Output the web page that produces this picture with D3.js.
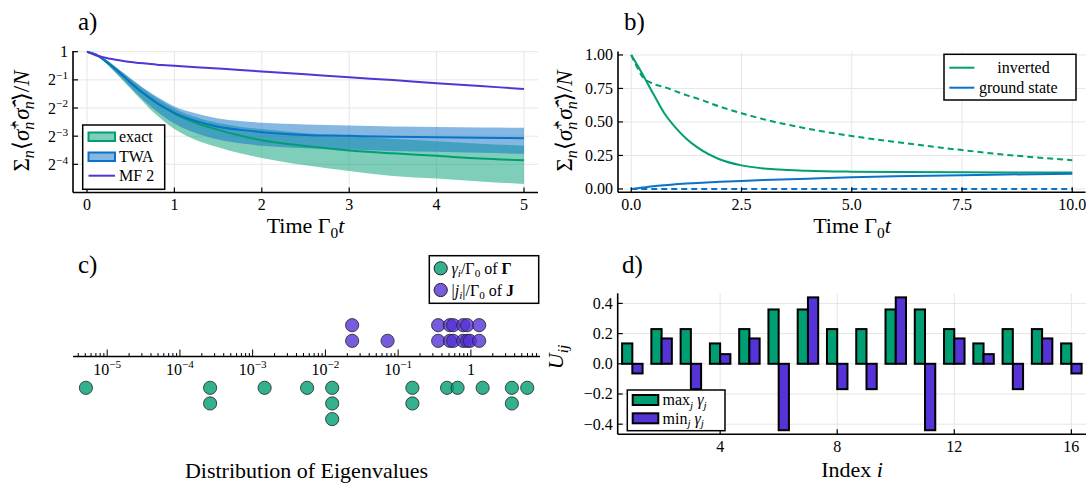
<!DOCTYPE html>
<html>
<head>
<meta charset="utf-8">
<script src="https://cdn.jsdelivr.net/npm/d3@7"></script>
<style>
  body { margin: 0; background: #fff; }
  svg { font-family: "Liberation Serif", "DejaVu Serif", serif; }
</style>
</head>
<body>
<svg id="fig" width="1091" height="489"></svg>
<script>
// ---- panel a : decay, log2 axis
const tA = [0, 0.1, 0.2, 0.3, 0.4, 0.5, 0.6, 0.7, 0.8, 0.9, 1.0, 1.25, 1.5, 1.75, 2.0, 2.5, 3.0, 3.5, 4.0, 4.5, 5.0];
const exactMean = [1, 0.933, 0.812, 0.683, 0.566, 0.467, 0.387, 0.330, 0.281, 0.247, 0.218, 0.173, 0.146, 0.127, 0.113, 0.098, 0.088, 0.082, 0.077, 0.072, 0.069];
const exactHi = [1, 0.946, 0.841, 0.722, 0.607, 0.511, 0.432, 0.369, 0.319, 0.279, 0.247, 0.199, 0.173, 0.158, 0.149, 0.134, 0.125, 0.117, 0.110, 0.104, 0.099];
const exactLo = [1, 0.920, 0.774, 0.629, 0.504, 0.401, 0.319, 0.255, 0.209, 0.174, 0.149, 0.113, 0.095, 0.082, 0.073, 0.061, 0.053, 0.047, 0.044, 0.041, 0.0385];
const twaMean = [1, 0.933, 0.812, 0.683, 0.566, 0.467, 0.387, 0.330, 0.283, 0.250, 0.222, 0.181, 0.158, 0.146, 0.138, 0.129, 0.126, 0.123, 0.122, 0.120, 0.119];
const twaHi = [1, 0.946, 0.841, 0.722, 0.611, 0.518, 0.441, 0.379, 0.330, 0.291, 0.259, 0.218, 0.193, 0.182, 0.174, 0.167, 0.163, 0.159, 0.157, 0.155, 0.154];
const twaLo = [1, 0.920, 0.779, 0.637, 0.518, 0.415, 0.335, 0.274, 0.230, 0.196, 0.171, 0.134, 0.115, 0.105, 0.099, 0.093, 0.090, 0.087, 0.085, 0.083, 0.081];
const mf2 = [1, 0.915, 0.866, 0.829, 0.801, 0.774, 0.758, 0.742, 0.727, 0.717, 0.707, 0.683, 0.660, 0.637, 0.616, 0.574, 0.532, 0.497, 0.460, 0.429, 0.400];
const yTicksA = [1, 0.5, 0.25, 0.125, 0.0625];
const xTicksA = [0, 1, 2, 3, 4, 5];

// ---- panel b : inverted vs ground state
const tB = [0, 0.1, 0.25, 0.5, 0.75, 1.0, 1.25, 1.5, 2.0, 2.5, 3.0, 4.0, 5.0, 6.0, 7.5, 8.5, 10.0];
const invSolid = [1.0, 0.945, 0.86, 0.71, 0.565, 0.46, 0.375, 0.31, 0.222, 0.176, 0.153, 0.136, 0.129, 0.126, 0.124, 0.123, 0.122];
const invDashed = [1.0, 0.93, 0.84, 0.785, 0.76, 0.73, 0.70, 0.675, 0.615, 0.565, 0.52, 0.45, 0.395, 0.35, 0.29, 0.255, 0.215];
const gndSolid = [0, 0.004, 0.01, 0.02, 0.028, 0.035, 0.04, 0.045, 0.053, 0.06, 0.066, 0.077, 0.087, 0.094, 0.103, 0.108, 0.113];
const gndDashed = [0, 0, 0, 0, 0, 0, 0, 0, 0, 0, 0, 0, 0, 0, 0, 0, 0];
const xTicksB = [0, 2.5, 5, 7.5, 10];
const yTicksB = [0, 0.25, 0.5, 0.75, 1];

// ---- panel c : eigenvalues
const gammaVals = [5.1e-6, 2.6e-4, 2.6e-4, 1.46e-3, 5.6e-3, 0.0124, 0.0124, 0.0124, 0.157, 0.157, 0.47, 0.656, 1.45, 3.66, 3.66, 5.95];
const jVals = [0.0233, 0.0233, 0.0715, 0.355, 0.355, 0.514, 0.514, 0.571, 0.571, 0.784, 0.784, 0.889, 0.889, 0.969, 1.30, 1.30];
const decadesC = [-5, -4, -3, -2, -1, 0];

// ---- panel d : eigenvectors
const idx = [1, 2, 3, 4, 5, 6, 7, 8, 9, 10, 11, 12, 13, 14, 15, 16];
const uMax = [0.135, 0.23, 0.23, 0.135, 0.23, 0.36, 0.36, 0.23, 0.23, 0.36, 0.36, 0.23, 0.135, 0.23, 0.23, 0.135];
const uMin = [-0.064, 0.168, -0.168, 0.064, 0.168, -0.44, 0.44, -0.168, -0.168, 0.44, -0.44, 0.168, 0.064, -0.168, 0.168, -0.064];
const xTicksD = [4, 8, 12, 16];
const yTicksD = [-0.4, -0.2, 0, 0.2, 0.4];

const GREEN = "#009e73", BLUE = "#0a72c8", PURPLE = "#5533d6";
const GRID = "#e6e6e6";
const TICK_FS = 16, LEG_FS = 16, LAB_FS = 22, TITLE_FS = 25;

const svg = d3.select("#fig");

// small helper for text with sub/superscripts
function rich(g, x, y, parts, fs, anchor) {
  const t = g.append("text").attr("x", x).attr("y", y)
    .attr("font-size", fs).attr("text-anchor", anchor || "start");
  let cur = 0;
  parts.forEach(p => {
    if (typeof p === "string") p = {t: p};
    const off = p.sup ? -0.38 * fs : p.sub ? 0.22 * fs : 0;
    const ts = t.append("tspan").attr("dy", off - cur).text(p.t);
    if (p.sup || p.sub) ts.attr("font-size", fs * 0.7);
    if (p.i) ts.attr("font-style", "italic");
    if (p.b) ts.attr("font-weight", "bold");
    if (p.dx) ts.attr("dx", p.dx);
    cur = off;
  });
  return t;
}

const ylabelParts = ["Σ", {t: "n", sub: 1, i: 1}, "⟨", {t: "σ̂", i: 1}, {t: "+", sup: 1}, {t: "n", sub: 1, i: 1, dx: -9},
  {t: "σ̂", i: 1, dx: 2}, {t: "−", sup: 1}, {t: "n", sub: 1, i: 1, dx: -10}, "⟩/", {t: "N", i: 1}];
const timeParts = ["Time Γ", {t: "0", sub: 1}, {t: "t", i: 1}];

function gridAndAxes(g, x, y, xt, yt, x0, x1, y0, y1) {
  g.append("g").selectAll("line").data(xt).join("line")
    .attr("x1", d => x(d)).attr("x2", d => x(d)).attr("y1", y0).attr("y2", y1)
    .attr("stroke", GRID).attr("stroke-width", 1);
  g.append("g").selectAll("line").data(yt).join("line")
    .attr("y1", d => y(d)).attr("y2", d => y(d)).attr("x1", x0).attr("x2", x1)
    .attr("stroke", GRID).attr("stroke-width", 1);
}
function frame(g, x0, x1, y0, y1) {
  g.append("line").attr("x1", x0).attr("x2", x1).attr("y1", y1).attr("y2", y1).attr("stroke", "#000").attr("stroke-width", 1.6);
  g.append("line").attr("x1", x0).attr("x2", x0).attr("y1", y0).attr("y2", y1).attr("stroke", "#000").attr("stroke-width", 1.6);
}
function ticks(g, x, y, xt, yt, x0, y1, fmtX, fmtY) {
  g.append("g").selectAll("line").data(xt).join("line")
    .attr("x1", d => x(d)).attr("x2", d => x(d)).attr("y1", y1).attr("y2", y1 - 5).attr("stroke", "#000").attr("stroke-width", 1.2);
  g.append("g").selectAll("line").data(yt).join("line")
    .attr("y1", d => y(d)).attr("y2", d => y(d)).attr("x1", x0).attr("x2", x0 + 5).attr("stroke", "#000").attr("stroke-width", 1.2);
  xt.forEach(d => g.append("text").attr("x", x(d)).attr("y", y1 + 17.5).attr("font-size", TICK_FS)
    .attr("text-anchor", "middle").text(fmtX(d)));
  yt.forEach(d => {
    const f = fmtY(d);
    if (typeof f === "string") g.append("text").attr("x", x0 - 5).attr("y", y(d) + 5.5).attr("font-size", TICK_FS).attr("text-anchor", "end").text(f);
    else rich(g, x0 - 5, y(d) + 5.5, f, TICK_FS, "end");
  });
}

// ================= panel a
{
  const g = svg.append("g");
  const x = d3.scaleLinear().domain([-0.16, 5.16]).range([73, 538]);
  const y = d3.scaleLog().base(2).domain([1 / 32, 1]).range([192.5, 51.7]);
  gridAndAxes(g, x, y, xTicksA, yTicksA, 73, 538, 51, 192.5);

  const area = (lo, hi) => d3.area().curve(d3.curveMonotoneX)
    .x((d, i) => x(tA[i])).y0((d, i) => y(lo[i])).y1((d, i) => y(hi[i]))(tA);
  const line = v => d3.line().curve(d3.curveMonotoneX).x((d, i) => x(tA[i])).y((d, i) => y(v[i]))(tA);

  g.append("path").attr("d", area(exactLo, exactHi)).attr("fill", GREEN).attr("fill-opacity", 0.5);
  g.append("path").attr("d", area(twaLo, twaHi)).attr("fill", BLUE).attr("fill-opacity", 0.5);
  g.append("path").attr("d", line(exactMean)).attr("fill", "none").attr("stroke", GREEN).attr("stroke-width", 2);
  g.append("path").attr("d", line(twaMean)).attr("fill", "none").attr("stroke", BLUE).attr("stroke-width", 2);
  g.append("path").attr("d", line(mf2)).attr("fill", "none").attr("stroke", PURPLE).attr("stroke-width", 2);

  frame(g, 73, 538, 51, 192.5);
  ticks(g, x, y, xTicksA, yTicksA, 73, 192.5, d => d3.format("d")(d),
    d => d === 1 ? "1" : ["2", {t: "−" + Math.round(-Math.log2(d)), sup: 1}]);

  // legend
  const lg = g.append("g");
  lg.append("rect").attr("x", 82.7).attr("y", 125).attr("width", 82).attr("height", 64.3)
    .attr("fill", "#fff").attr("stroke", "#000").attr("stroke-width", 1.5);
  lg.append("rect").attr("x", 88.5).attr("y", 132.5).attr("width", 26.5).attr("height", 8.5)
    .attr("fill", GREEN).attr("fill-opacity", 0.5).attr("stroke", GREEN).attr("stroke-width", 2);
  lg.append("rect").attr("x", 88.5).attr("y", 152.5).attr("width", 26.5).attr("height", 8.5)
    .attr("fill", BLUE).attr("fill-opacity", 0.5).attr("stroke", BLUE).attr("stroke-width", 2);
  lg.append("line").attr("x1", 88.5).attr("x2", 115).attr("y1", 175.7).attr("y2", 175.7).attr("stroke", PURPLE).attr("stroke-width", 2);
  [["exact", 142], ["TWA", 162], ["MF 2", 181]].forEach(([s, yy]) =>
    lg.append("text").attr("x", 119).attr("y", yy).attr("font-size", LEG_FS).text(s));

  rich(g, 305.5, 233, timeParts, LAB_FS, "middle");
  const yl = g.append("g").attr("transform", "translate(29,121) rotate(-90)");
  rich(yl, 0, 0, ylabelParts, 23, "middle");
  g.append("text").attr("x", 78).attr("y", 30).attr("font-size", TITLE_FS).text("a)");
}

// ================= panel b
{
  const g = svg.append("g");
  const x = d3.scaleLinear().domain([-0.3, 10.3]).range([618, 1085.5]);
  const y = d3.scaleLinear().domain([-0.025, 1.025]).range([192.3, 51.6]);
  gridAndAxes(g, x, y, xTicksB, yTicksB, 618, 1085.5, 51.6, 192.3);

  const line = v => d3.line().curve(d3.curveMonotoneX).x((d, i) => x(tB[i])).y((d, i) => y(v[i]))(tB);
  g.append("path").attr("d", line(invDashed)).attr("fill", "none").attr("stroke", GREEN).attr("stroke-width", 2).attr("stroke-dasharray", "6,4");
  g.append("path").attr("d", line(gndDashed)).attr("fill", "none").attr("stroke", BLUE).attr("stroke-width", 2).attr("stroke-dasharray", "6,4");
  g.append("path").attr("d", line(invSolid)).attr("fill", "none").attr("stroke", GREEN).attr("stroke-width", 2);
  g.append("path").attr("d", line(gndSolid)).attr("fill", "none").attr("stroke", BLUE).attr("stroke-width", 2);

  frame(g, 618, 1085.5, 51.6, 192.3);
  ticks(g, x, y, xTicksB, yTicksB, 618, 192.3, d => d3.format(".1f")(d), d => d3.format(".2f")(d));

  const lg = g.append("g");
  lg.append("rect").attr("x", 944).attr("y", 54.3).attr("width", 132).attr("height", 45.7)
    .attr("fill", "#fff").attr("stroke", "#000").attr("stroke-width", 1.5);
  lg.append("line").attr("x1", 949.3).attr("x2", 974.3).attr("y1", 67.7).attr("y2", 67.7).attr("stroke", GREEN).attr("stroke-width", 2);
  lg.append("line").attr("x1", 949.3).attr("x2", 974.3).attr("y1", 87.7).attr("y2", 87.7).attr("stroke", BLUE).attr("stroke-width", 2);
  lg.append("text").attr("x", 1023.5).attr("y", 73).attr("font-size", LEG_FS).attr("text-anchor", "middle").text("inverted");
  lg.append("text").attr("x", 979).attr("y", 93).attr("font-size", LEG_FS).text("ground state");

  rich(g, 852, 233, timeParts, LAB_FS, "middle");
  const yl = g.append("g").attr("transform", "translate(572,121) rotate(-90)");
  rich(yl, 0, 0, ylabelParts, 23, "middle");
  g.append("text").attr("x", 624).attr("y", 30).attr("font-size", TITLE_FS).text("b)");
}

// ================= panel c
{
  const g = svg.append("g");
  const x = d3.scaleLog().domain([Math.pow(10, -5.47), Math.pow(10, 0.95)]).range([73, 540]);
  const y = d3.scaleLinear().domain([0, 1]).range([356.5, 340.85]);
  const [d0, d1] = x.domain();

  // axis with upward ticks
  g.append("line").attr("x1", 73).attr("x2", 540).attr("y1", y(0)).attr("y2", y(0)).attr("stroke", "#000").attr("stroke-width", 1.5);
  const minor = [];
  for (let k = -6; k <= 0; k++) for (let m = 2; m <= 9; m++) {
    const v = m * Math.pow(10, k);
    if (v >= d0 && v <= d1) minor.push(v);
  }
  g.append("g").selectAll("line").data(minor).join("line")
    .attr("x1", d => x(d)).attr("x2", d => x(d)).attr("y1", y(0)).attr("y2", y(0) - 3.5).attr("stroke", "#000").attr("stroke-width", 1);
  g.append("g").selectAll("line").data(decadesC).join("line")
    .attr("x1", d => x(Math.pow(10, d))).attr("x2", d => x(Math.pow(10, d))).attr("y1", y(0)).attr("y2", y(0) - 7).attr("stroke", "#000").attr("stroke-width", 1);
  decadesC.forEach(k => {
    if (k === 0) g.append("text").attr("x", x(1)).attr("y", 374.5).attr("font-size", TICK_FS).attr("text-anchor", "middle").text("1");
    else rich(g, x(Math.pow(10, k)), 374.5, ["10", {t: "−" + (-k), sup: 1}], TICK_FS, "middle");
  });

  const stack = vals => vals.map((v, i) => ({v, row: vals.slice(0, i).filter(w => w === v).length}));
  g.append("g").selectAll("circle").data(stack(gammaVals)).join("circle")
    .attr("cx", d => x(d.v)).attr("cy", d => y(-2 - d.row)).attr("r", 6.6)
    .attr("fill", GREEN).attr("fill-opacity", 0.8).attr("stroke", "#222").attr("stroke-opacity", 0.8).attr("stroke-width", 1);
  g.append("g").selectAll("circle").data(stack(jVals)).join("circle")
    .attr("cx", d => x(d.v)).attr("cy", d => y(1 + d.row)).attr("r", 6.6)
    .attr("fill", PURPLE).attr("fill-opacity", 0.8).attr("stroke", "#222").attr("stroke-opacity", 0.8).attr("stroke-width", 1);

  const lg = g.append("g");
  lg.append("rect").attr("x", 429.3).attr("y", 255.7).attr("width", 109.4).attr("height", 47.6)
    .attr("fill", "#fff").attr("stroke", "#000").attr("stroke-width", 1.5);
  lg.append("circle").attr("cx", 440.7).attr("cy", 268.3).attr("r", 6.6).attr("fill", GREEN).attr("fill-opacity", 0.8).attr("stroke", "#222");
  lg.append("circle").attr("cx", 440.7).attr("cy", 290).attr("r", 6.6).attr("fill", PURPLE).attr("fill-opacity", 0.8).attr("stroke", "#222");
  rich(lg, 451.5, 273.5, [{t: "γ", i: 1}, {t: "i", sub: 1, i: 1}, "/Γ", {t: "0", sub: 1}, " of ", {t: "Γ", b: 1}], LEG_FS);
  rich(lg, 451.5, 295.5, ["|", {t: "j", i: 1}, {t: "i", sub: 1, i: 1}, "|/Γ", {t: "0", sub: 1}, " of ", {t: "J", b: 1}], LEG_FS);

  g.append("text").attr("x", 306.5).attr("y", 478).attr("font-size", LAB_FS).attr("text-anchor", "middle").text("Distribution of Eigenvalues");
  g.append("text").attr("x", 78).attr("y", 273).attr("font-size", TITLE_FS).text("c)");
}

// ================= panel d
{
  const g = svg.append("g");
  const x = d3.scaleLinear().domain([0.5, 16.5]).range([617.7, 1086]);
  const y = d3.scaleLinear().domain([-0.467, 0.467]).range([434.3, 293.3]);
  gridAndAxes(g, x, y, xTicksD, yTicksD, 617.7, 1086, 293.3, 434.3);

  const bw = x(0.35) - x(0);
  g.append("g").selectAll("rect").data(idx).join("rect")
    .attr("x", (d, i) => x(d - 0.35)).attr("width", bw)
    .attr("y", (d, i) => y(Math.max(0, uMax[i]))).attr("height", (d, i) => Math.abs(y(uMax[i]) - y(0)))
    .attr("fill", GREEN).attr("stroke", "#000").attr("stroke-width", 2);
  g.append("g").selectAll("rect").data(idx).join("rect")
    .attr("x", d => x(d)).attr("width", bw)
    .attr("y", (d, i) => y(Math.max(0, uMin[i]))).attr("height", (d, i) => Math.abs(y(uMin[i]) - y(0)))
    .attr("fill", PURPLE).attr("stroke", "#000").attr("stroke-width", 2);

  frame(g, 617.7, 1086, 293.3, 434.3);
  ticks(g, x, y, xTicksD, yTicksD, 617.7, 434.3, d => String(d), d => d3.format(".1f")(d).replace("-", "−"));

  const lg = g.append("g");
  lg.append("rect").attr("x", 627.3).attr("y", 390).attr("width", 97.7).attr("height", 40.7)
    .attr("fill", "#fff").attr("stroke", "#000").attr("stroke-width", 1.5);
  lg.append("rect").attr("x", 632.7).attr("y", 395).attr("width", 25.6).attr("height", 10).attr("fill", GREEN).attr("stroke", "#000").attr("stroke-width", 2);
  lg.append("rect").attr("x", 632.7).attr("y", 413.3).attr("width", 25.6).attr("height", 10).attr("fill", PURPLE).attr("stroke", "#000").attr("stroke-width", 2);
  rich(lg, 662.5, 405, ["max", {t: "j", sub: 1, i: 1}, " ", {t: "γ", i: 1}, {t: "j", sub: 1, i: 1}], LEG_FS);
  rich(lg, 662.5, 423.5, ["min", {t: "j", sub: 1, i: 1}, " ", {t: "γ", i: 1}, {t: "j", sub: 1, i: 1}], LEG_FS);

  rich(g, 852, 477, ["Index ", {t: "i", i: 1}], LAB_FS, "middle");
  const yl = g.append("g").attr("transform", "translate(563,357) rotate(-90)");
  rich(yl, 0, 0, [{t: "U", i: 1}, {t: "ij", sub: 1, i: 1}], LAB_FS, "middle");
  g.append("text").attr("x", 622).attr("y", 273).attr("font-size", TITLE_FS).text("d)");
}
</script>
</body>
</html>
